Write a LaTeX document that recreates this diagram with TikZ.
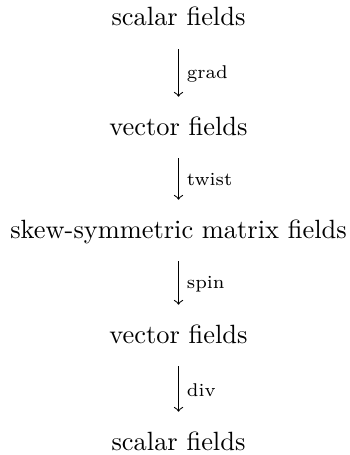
\documentclass[tikz,border=0pt]{standalone}
\begin{document}
\begin{tikzpicture}[x=0.3788pt,y=-0.3788pt,
  obj/.style={inner sep=0pt,anchor=base,text height=7pt,text depth=2pt},
  map/.style={->,line width=0.4pt,shorten <=6.7pt,shorten >=7.3pt},
  lab/.style={font=\scriptsize,anchor=west,inner sep=3pt}]
\useasboundingbox (0,0) rectangle (349,455);
\node[obj] (n1) at (178.5,26) {scalar fields};
\node[obj] (n2) at (178.5,135) {vector fields};
\node[obj] (n3) at (178.5,238) {skew-symmetric matrix fields};
\node[obj] (n4) at (178.5,343) {vector fields};
\node[obj] (n5) at (178.5,450) {scalar fields};
\draw[map] (n1) -- node[lab] {grad} (n2);
\draw[map] (n2) -- node[lab] {twist} (n3);
\draw[map] (n3) -- node[lab] {spin} (n4);
\draw[map] (n4) -- node[lab] {div} (n5);
\end{tikzpicture}
\end{document}
